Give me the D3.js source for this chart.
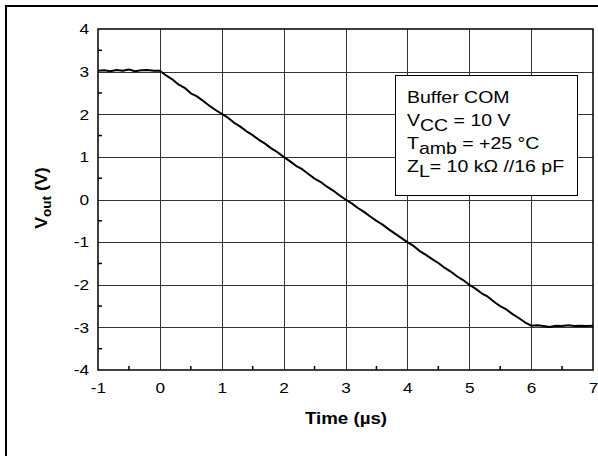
<!DOCTYPE html>
<html><head><meta charset="utf-8">
<script src="https://cdn.jsdelivr.net/npm/d3@7"></script>
<style>html,body{margin:0;background:#fff;overflow:hidden}svg{display:block;overflow:hidden;font-family:"Liberation Sans",Arial,sans-serif}</style>
</head><body><svg id="c" width="598" height="456"></svg>
<script>
const timeUs = [-1.0,-0.9,-0.8,-0.7,-0.6,-0.5,-0.4,-0.3,-0.2,-0.1,0.0,0.1,0.2,0.3,0.4,0.5,0.6,0.7,0.8,0.9,1.0,1.1,1.2,1.3,1.4,1.5,1.6,1.7,1.8,1.9,2.0,2.1,2.2,2.3,2.4,2.5,2.6,2.7,2.8,2.9,3.0,3.1,3.2,3.3,3.4,3.5,3.6,3.7,3.8,3.9,4.0,4.1,4.2,4.3,4.4,4.5,4.6,4.7,4.8,4.9,5.0,5.1,5.2,5.3,5.4,5.5,5.6,5.7,5.8,5.9,6.0,6.1,6.2,6.3,6.4,6.5,6.6,6.7,6.8,6.9,7.0];
const vout = [3.02,3.03,3.01,3.04,3.02,3.05,3.01,3.03,3.04,3.02,3.02,2.91,2.82,2.70,2.62,2.49,2.42,2.31,2.20,2.10,2.01,1.92,1.80,1.71,1.60,1.51,1.40,1.31,1.20,1.11,1.00,0.90,0.79,0.71,0.60,0.49,0.41,0.30,0.21,0.10,0.00,-0.09,-0.20,-0.29,-0.40,-0.50,-0.59,-0.70,-0.80,-0.90,-1.00,-1.09,-1.21,-1.30,-1.40,-1.49,-1.60,-1.69,-1.80,-1.89,-2.00,-2.09,-2.20,-2.28,-2.40,-2.50,-2.58,-2.69,-2.78,-2.88,-2.96,-2.95,-2.97,-2.99,-2.96,-2.97,-2.95,-2.97,-2.96,-2.97,-2.96];
const xTicks = [-1,0,1,2,3,4,5,6,7];
const yTicks = [-4,-3,-2,-1,0,1,2,3,4];
const xMinor = [-0.5,0.5,1.5,2.5,3.5,4.5,5.5,6.5];
const yMinor = [-3.5,-2.5,-1.5,-0.5,0.5,1.5,2.5,3.5];
const legendLines = [
  [["Buffer COM",0]],
  [["V",0],["CC",1],[" = 10 V",0]],
  [["T",0],["amb",1],[" = +25 °C",0]],
  [["Z",0],["L",1],["= 10 kΩ //16 pF",0]]
];

const svg = d3.select("#c");
const L=98,R=593,T=29,B=370;
const SX=1.15;
const x = d3.scaleLinear().domain([-1,7]).range([L,R]);
const y = d3.scaleLinear().domain([-4,4]).range([B,T]);

// outer border (left and top edges only visible)
svg.append("path").attr("d","M6,460V6H600").attr("fill","none").attr("stroke","#000").attr("stroke-width",2);

// grid
const g = svg.append("g");
g.selectAll(".vx").data(xTicks.slice(1,-1)).join("line")
  .attr("x1",d=>Math.round(x(d))+0.5).attr("x2",d=>Math.round(x(d))+0.5).attr("y1",T).attr("y2",B)
  .attr("stroke","#333").attr("stroke-width",1);
g.selectAll(".hy").data(yTicks.slice(1,-1)).join("line")
  .attr("y1",d=>Math.round(y(d))+0.5).attr("y2",d=>Math.round(y(d))+0.5).attr("x1",L).attr("x2",R)
  .attr("stroke","#333").attr("stroke-width",1);

// axes
const xAxis = d3.axisBottom(x).tickValues(xTicks).tickSize(0).tickPadding(12).tickFormat(d=>String(d));
const yAxis = d3.axisLeft(y).tickValues(yTicks).tickSize(0).tickPadding(9).tickFormat(d=>String(d));
const gx = svg.append("g").attr("transform",`translate(0,${B})`).call(xAxis);
const gy = svg.append("g").attr("transform",`translate(${L},0)`).call(yAxis);
[gx,gy].forEach(a=>{a.select(".domain").remove();a.selectAll("text").attr("font-size",15).attr("fill","#000").attr("font-family","Liberation Sans, Arial, sans-serif");});
gx.selectAll("text").attr("transform",`scale(${SX},1)`);
gy.selectAll("text").attr("x",0).attr("transform",`translate(-9,0) scale(${SX},1)`);

// minor ticks inward
svg.selectAll(".mx").data(xMinor).join("line").attr("x1",d=>x(d)).attr("x2",d=>x(d)).attr("y1",B).attr("y2",B-4).attr("stroke","#000").attr("stroke-width",1.5);
svg.selectAll(".my").data(yMinor).join("line").attr("y1",d=>y(d)).attr("y2",d=>y(d)).attr("x1",L).attr("x2",L+4).attr("stroke","#000").attr("stroke-width",1.5);

// frame
svg.append("rect").attr("x",L).attr("y",T).attr("width",R-L).attr("height",B-T)
  .attr("fill","none").attr("stroke","#000").attr("stroke-width",1.5);

// curve
const line = d3.line().x((d,i)=>x(timeUs[i])).y(d=>y(d));
svg.append("path").datum(vout).attr("d",line).attr("fill","none").attr("stroke","#000").attr("stroke-width",2).attr("stroke-linejoin","round");

// legend
svg.append("rect").attr("x",395.5).attr("y",75.5).attr("width",182).attr("height",120)
  .attr("fill","#fff").attr("stroke","#000").attr("stroke-width",1);
const baselines=[103,126,149,172];
legendLines.forEach((parts,i)=>{
  const t = svg.append("text").attr("transform",`translate(407,${baselines[i]}) scale(1.22,1)`).attr("font-size",16).attr("fill","#000");
  let shifted=false;
  parts.forEach(([s,sub])=>{
    const ts=t.append("tspan").text(s);
    if(sub && !shifted){ts.attr("dy",5);shifted=true;}
    else if(!sub && shifted){ts.attr("dy",-5);shifted=false;}
  });
});

// axis titles
svg.append("text").attr("transform",`translate(346,424) scale(1.17,1)`).attr("text-anchor","middle").attr("font-size",16).attr("font-weight","bold").text("Time (µs)");
const yl = svg.append("text").attr("transform","translate(47,198) rotate(-90) scale(1.12,1)").attr("text-anchor","middle").attr("font-size",16).attr("font-weight","bold");
yl.append("tspan").text("V");
yl.append("tspan").attr("dy",4).attr("font-size",12).text("out");
yl.append("tspan").attr("dy",-4).text(" (V)");
</script></body></html>
